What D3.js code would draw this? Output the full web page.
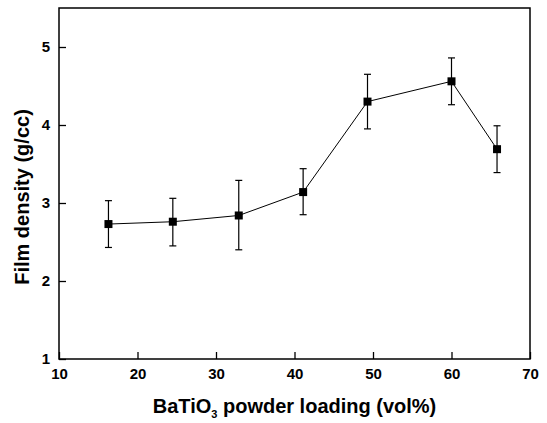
<!DOCTYPE html>
<html lang="en">
<head>
<meta charset="UTF-8">
<title>Film density vs BaTiO3 loading</title>
<script src="https://d3js.org/d3.v7.min.js"></script>
<style>
    body { margin: 0; background: #fff; }
    svg text { font-family: "Liberation Sans", Arial, sans-serif; font-weight: bold; fill: #000; }
</style>
</head>
<body>
<svg width="547" height="423"></svg>
<script>
    // data
    const loading = [16.3, 24.5, 32.9, 41.1, 49.3, 60.0, 65.8];
    const density = [2.73, 2.76, 2.84, 3.14, 4.30, 4.56, 3.69];
    const errLow  = [2.43, 2.45, 2.40, 2.85, 3.95, 4.26, 3.39];
    const errHigh = [3.03, 3.06, 3.29, 3.44, 4.65, 4.86, 3.99];

    const xTicks = [10, 20, 30, 40, 50, 60, 70];
    const yTicks = [1, 2, 3, 4, 5];

    const svg = d3.select("svg");
    const margin = {top: 8, right: 17, bottom: 64, left: 59};
    const W = 547, H = 423;

    const x = d3.scaleLinear().domain([10, 70]).range([margin.left, W - margin.right]);
    const y = d3.scaleLinear().domain([1, 5.5]).range([H - margin.bottom, margin.top]);

    const g = svg.append("g");

    // frame
    g.append("rect")
        .attr("x", x(10)).attr("y", y(5.5))
        .attr("width", x(70) - x(10)).attr("height", y(1) - y(5.5))
        .attr("fill", "none").attr("stroke", "#000").attr("stroke-width", 1.5);

    // x axis, ticks inward
    const xAxis = g.append("g").attr("transform", `translate(0,${y(1)})`);
    xAxis.call(d3.axisBottom(x).tickValues(d3.range(12, 70, 2).filter(v => v % 10)).tickSize(-4).tickFormat(""));
    xAxis.call(d3.axisBottom(x).tickValues(xTicks).tickSize(-7).tickPadding(9).tickFormat(d3.format("d")));
    xAxis.selectAll(".domain").remove();
    xAxis.selectAll("line").attr("stroke", "#000").attr("stroke-width", 1.3);
    xAxis.selectAll("text").attr("font-size", 15);

    // y axis, ticks inward
    const yAxis = g.append("g").attr("transform", `translate(${x(10)},0)`);
    yAxis.call(d3.axisLeft(y).tickValues([1.5, 2.5, 3.5, 4.5]).tickSize(-4).tickFormat(""));
    yAxis.call(d3.axisLeft(y).tickValues(yTicks).tickSize(-7).tickPadding(9).tickFormat(d3.format("d")));
    yAxis.selectAll(".domain").remove();
    yAxis.selectAll("line").attr("stroke", "#000").attr("stroke-width", 1.3);
    yAxis.selectAll("text").attr("font-size", 15);

    const pts = loading.map((v, i) => ({x: v, y: density[i], lo: errLow[i], hi: errHigh[i]}));

    // connecting line
    g.append("path")
        .datum(pts)
        .attr("fill", "none").attr("stroke", "#000").attr("stroke-width", 1)
        .attr("d", d3.line().x(d => x(d.x)).y(d => y(d.y)));

    // error bars
    const eb = g.selectAll(".err").data(pts).enter().append("g").attr("class", "err")
        .attr("stroke", "#000").attr("stroke-width", 1.2);
    eb.append("line")
        .attr("x1", d => x(d.x)).attr("x2", d => x(d.x))
        .attr("y1", d => y(d.lo)).attr("y2", d => y(d.hi));
    eb.append("line")
        .attr("x1", d => x(d.x) - 3.5).attr("x2", d => x(d.x) + 3.5)
        .attr("y1", d => y(d.lo)).attr("y2", d => y(d.lo));
    eb.append("line")
        .attr("x1", d => x(d.x) - 3.5).attr("x2", d => x(d.x) + 3.5)
        .attr("y1", d => y(d.hi)).attr("y2", d => y(d.hi));

    // square markers
    g.selectAll(".pt").data(pts).enter().append("rect")
        .attr("x", d => x(d.x) - 4).attr("y", d => y(d.y) - 4)
        .attr("width", 8).attr("height", 8).attr("fill", "#000");

    // axis titles
    const xt = svg.append("text")
        .attr("x", (x(10) + x(70)) / 2).attr("y", 413)
        .attr("text-anchor", "middle").attr("font-size", 20);
    xt.append("tspan").text("BaTiO");
    xt.append("tspan").attr("font-size", 11).attr("dy", 5).text("3");
    xt.append("tspan").attr("dy", -5).text(" powder loading (vol%)");

    svg.append("text")
        .attr("transform", `translate(29,197) rotate(-90)`)
        .attr("text-anchor", "middle").attr("font-size", 20)
        .text("Film density (g/cc)");
</script>
</body>
</html>
